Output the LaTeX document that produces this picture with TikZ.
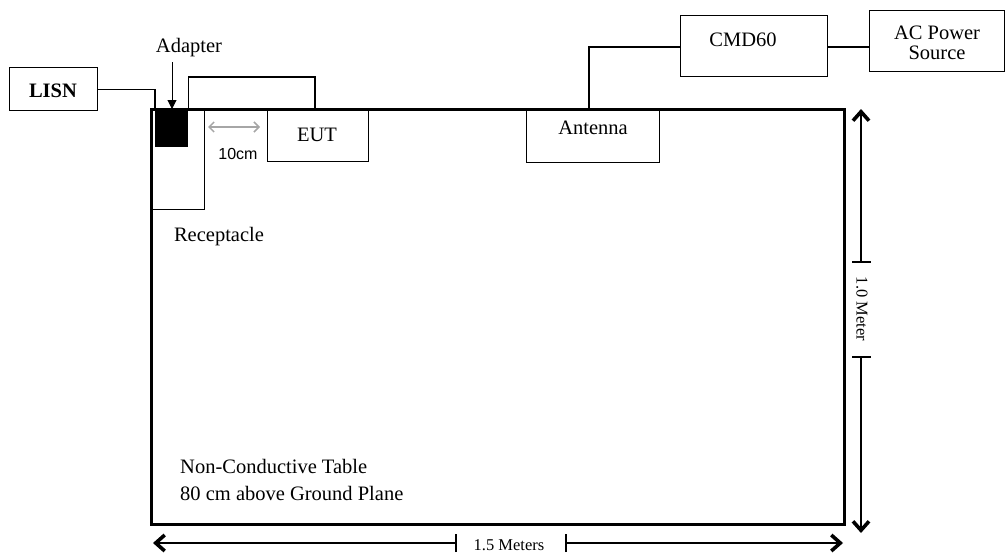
\documentclass[tikz,border=0pt]{standalone}
\usepackage{fontspec}
\setmainfont{Liberation Serif}
\newfontfamily\arialf{Liberation Sans}
\usetikzlibrary{arrows.meta}
\tikzset{
  box/.style={draw, line width=1.3pt, inner sep=0pt, anchor=north west},
  wire/.style={line width=1.3pt},
  txt/.style={font=\fontsize{20.5}{23}\selectfont, inner sep=0pt},
  dimtxt/.style={font=\fontsize{16.5}{18}\selectfont, inner sep=0pt},
  dimline/.style={line width=1.2pt},
  halfarrow/.style={line width=1.2pt, -{Straight Barb[length=9pt,width=16pt,line width=3.6pt]}},
}
\begin{document}
\begin{tikzpicture}[x=1pt,y=-1pt]
\useasboundingbox (0,0) rectangle (1006,554);
% table
\node[box, line width=3pt, minimum width=693pt, minimum height=415pt] (table) at (150,108) {};
% receptacle
\node[box, minimum width=54pt, minimum height=101pt] (recep) at (150,108) {};
% adapter
\node[box, fill=black, minimum width=32pt, minimum height=37pt] (adapter) at (155,109) {};
% LISN
\node[box, minimum width=88pt, minimum height=43pt] (lisn) at (9,67) {};
\node[txt, font=\fontsize{20.5}{23}\selectfont\bfseries] (lisnt) at (53,91) {LISN};
% EUT
\node[box, minimum width=101pt, minimum height=53pt] (eut) at (267,108) {};
\node[txt] (eutt) at (317,135) {EUT};
% Antenna
\node[box, minimum width=133pt, minimum height=54pt] (ant) at (526,108) {};
\node[txt] (antt) at (593,128) {Antenna};
% CMD60
\node[box, minimum width=147pt, minimum height=61pt] (cmd) at (680,15) {};
\node[txt] (cmdt) at (743,40) {CMD60};
% AC Power Source
\node[box, minimum width=135pt, minimum height=61pt] (ac) at (869,10) {};
\node[txt, align=center, font=\fontsize{20.5}{20}\selectfont] (act) at (937,43) {AC Power\\Source};
% labels
\node[txt] (adt) at (189,48) {Adapter};
\node[txt] (rect) at (219,237) {Receptacle};
\node[txt, anchor=west] (nct) at (180,466) {Non-Conductive Table};
\node[txt, anchor=west] (gpt) at (180,493) {80 cm above Ground Plane};
\node[inner sep=0pt, font=\arialf\fontsize{16}{18}\selectfont] (tencm) at (238,154) {10cm};
% wires
\draw[wire] (lisn.east) -| (adapter.north west);
\coordinate (ut) at (315,77);
\draw[wire] (adapter.north east) |- (ut) -- (ut |- eut.north);
\coordinate (at) at (589,47);
\draw[wire] (at |- ant.north) -- (at) -- (at -| cmd.west);
\draw[wire] (cmd.east |- at) -- (at -| ac.west);
% adapter arrow
\coordinate (adtop) at (172,62);
\draw[line width=1pt, -{Triangle[length=9pt,width=9pt]}] (adtop) -- (adtop |- adapter.north);
% 10cm gray arrow
\coordinate (g1) at (208,127);
\coordinate (g2) at (260,127);
\draw[gray!70, line width=1.5pt, {Straight Barb[length=5pt,width=10pt]}-{Straight Barb[length=5pt,width=10pt]}] (g1) -- (g2);
% vertical dimension
\coordinate (vt) at (861,109);
\coordinate (vb) at (861,533);
\coordinate (vk1) at (861,262);
\coordinate (vk2) at (861,357);
\draw[halfarrow] (vk1) -- (vt);
\draw[halfarrow] (vk2) -- (vb);
\draw[dimline] ([xshift=-9pt]vk1) -- ([xshift=10pt]vk1);
\draw[dimline] ([xshift=-9pt]vk2) -- ([xshift=10pt]vk2);
\node[dimtxt, rotate=-90] (vlab) at (862,309) {1.0 Meter};
% horizontal dimension
\coordinate (hl) at (153,543);
\coordinate (hr) at (843,543);
\coordinate (hk1) at (456,543);
\coordinate (hk2) at (566,543);
\draw[halfarrow] (hk1) -- (hl);
\draw[halfarrow] (hk2) -- (hr);
\draw[dimline] ([yshift=-9pt]hk1) -- ([yshift=9pt]hk1);
\draw[dimline] ([yshift=-9pt]hk2) -- ([yshift=9pt]hk2);
\node[dimtxt] (hlab) at (509,545) {1.5 Meters};
\end{tikzpicture}
\end{document}
